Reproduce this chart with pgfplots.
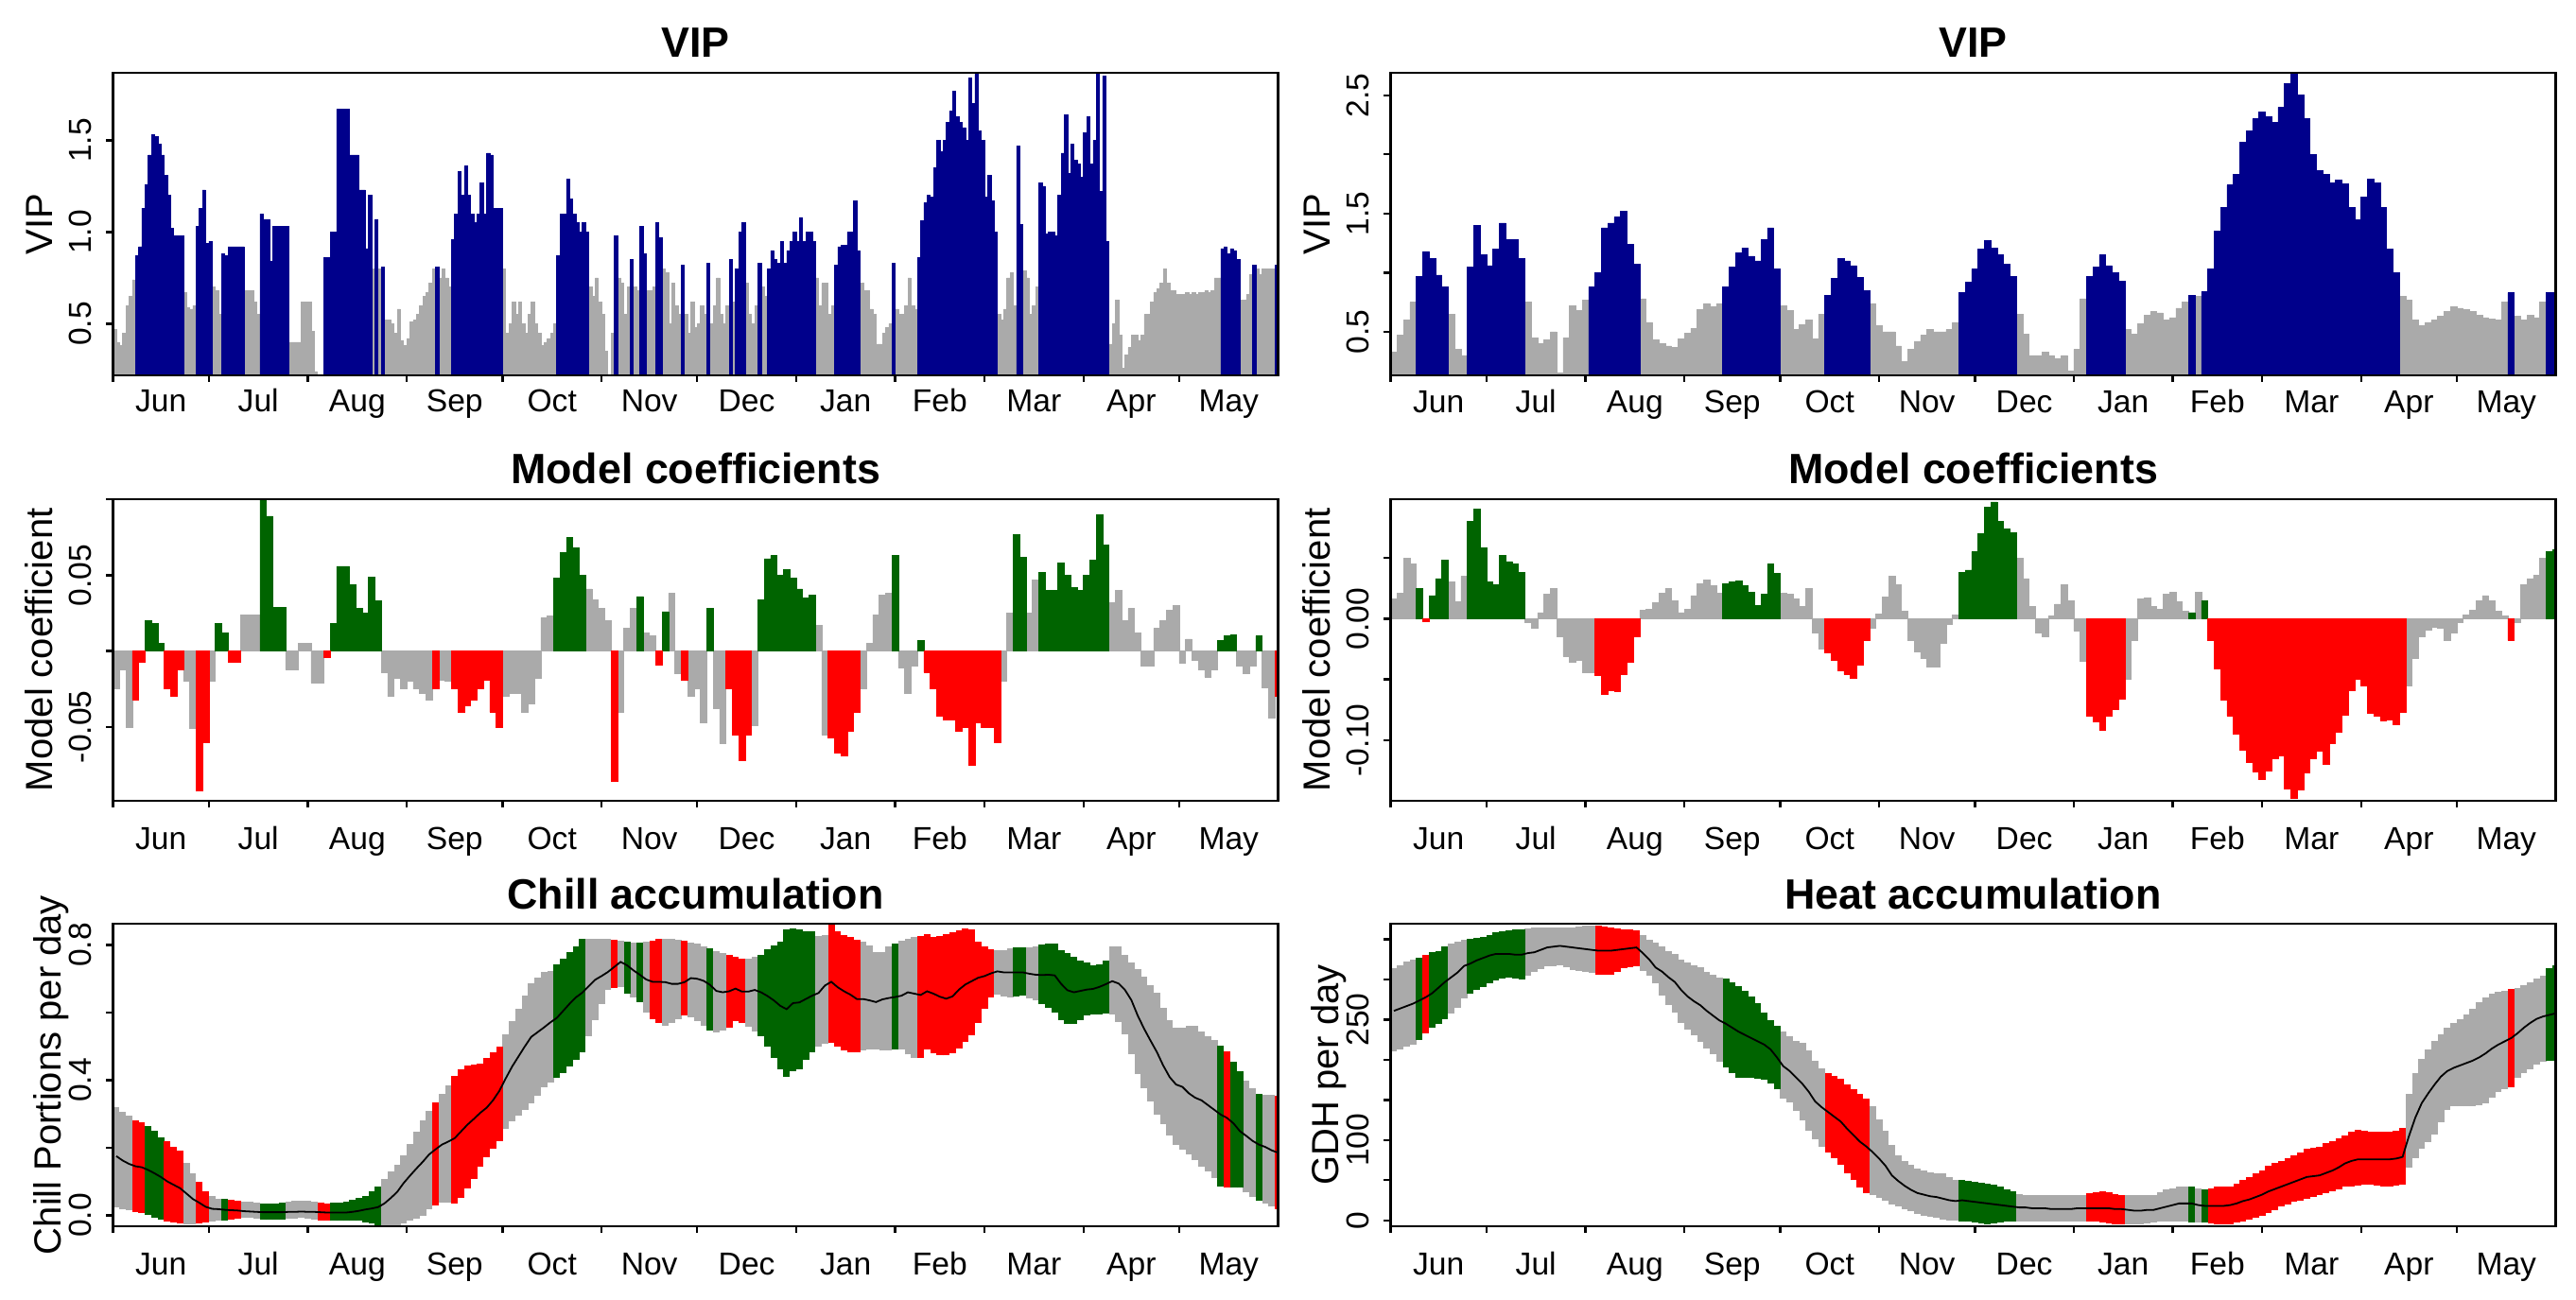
\documentclass[border=0pt]{standalone}
\usepackage{pgfplots}
\pgfplotsset{compat=1.18}
\usepackage{pgfplotstable}
\usepackage{fontspec}
\setmainfont{Liberation Sans}
\definecolor{cblue}{RGB}{0,0,139}
\definecolor{cgray}{RGB}{170,170,170}
\definecolor{cgreen}{RGB}{0,100,0}
\definecolor{cred}{RGB}{255,0,0}

% VIP left, daily, x100, c: 0 gray 1 blue
\pgfplotstableread[row sep=\\]{v c\\
47 0\\40 0\\38 0\\45 0\\60 0\\65 0\\74 0\\87 1\\92 1\\113 1\\
126 1\\142 1\\153 1\\152 1\\148 1\\142 1\\131 1\\120 1\\102 1\\98 1\\
98 1\\98 1\\67 0\\59 0\\58 0\\60 0\\103 1\\113 1\\123 1\\94 1\\
95 1\\70 0\\68 0\\55 0\\88 1\\87 1\\92 1\\92 1\\92 1\\92 1\\
92 1\\68 0\\68 0\\68 0\\62 0\\55 0\\110 1\\107 1\\107 1\\84 1\\
103 1\\103 1\\103 1\\103 1\\103 1\\40 0\\40 0\\40 0\\40 0\\62 0\\
62 0\\62 0\\46 0\\24 0\\22 0\\22 0\\86 1\\86 1\\100 1\\100 1\\
167 1\\167 1\\167 1\\167 1\\142 1\\142 1\\142 1\\123 1\\123 1\\91 1\\
120 1\\80 0\\107 1\\80 0\\81 1\\52 0\\52 0\\50 0\\45 0\\58 0\\
41 0\\38 0\\42 0\\51 0\\52 0\\55 0\\60 0\\65 0\\67 0\\72 0\\
80 0\\81 1\\75 0\\80 0\\75 0\\70 0\\96 1\\110 1\\133 1\\120 1\\
136 1\\120 1\\110 1\\105 1\\110 1\\127 1\\110 1\\143 1\\142 1\\113 1\\
113 1\\113 1\\80 0\\45 0\\50 0\\62 0\\55 0\\62 0\\50 0\\45 0\\
55 0\\62 0\\50 0\\45 0\\38 0\\40 0\\42 0\\45 0\\50 0\\87 1\\
110 1\\110 1\\129 1\\118 1\\110 1\\105 1\\100 1\\105 1\\100 1\\70 0\\
65 0\\75 0\\62 0\\55 0\\35 0\\22 0\\45 0\\98 1\\75 0\\72 0\\
55 0\\70 0\\85 1\\70 0\\68 0\\103 1\\88 1\\68 0\\68 0\\70 0\\
105 1\\97 1\\80 0\\78 0\\50 0\\72 0\\60 0\\55 0\\82 1\\55 0\\
45 0\\62 0\\48 0\\50 0\\60 0\\55 0\\83 1\\50 0\\60 0\\75 0\\
55 0\\50 0\\60 0\\85 1\\62 0\\80 1\\100 1\\105 1\\72 0\\55 0\\
50 0\\60 0\\83 1\\70 0\\65 0\\80 1\\90 1\\85 1\\83 1\\95 1\\
83 1\\90 1\\95 1\\100 1\\95 1\\108 1\\95 1\\100 1\\100 1\\95 1\\
75 0\\60 0\\72 0\\72 0\\55 0\\60 0\\82 1\\92 1\\93 1\\93 1\\
100 1\\100 1\\117 1\\90 1\\72 0\\68 0\\68 0\\58 0\\55 0\\39 0\\
39 0\\45 0\\48 0\\50 0\\83 1\\58 0\\55 0\\55 0\\60 0\\75 0\\
60 0\\58 0\\86 1\\106 1\\116 1\\120 1\\119 1\\135 1\\150 1\\144 1\\
150 1\\160 1\\166 1\\177 1\\163 1\\160 1\\157 1\\150 1\\184 1\\170 1\\
187 1\\155 1\\150 1\\119 1\\131 1\\117 1\\100 1\\55 0\\52 0\\58 0\\
75 0\\78 0\\60 0\\147 1\\104 1\\79 0\\75 0\\55 0\\60 0\\70 0\\
127 1\\125 1\\99 1\\100 1\\100 1\\98 1\\120 1\\143 1\\164 1\\132 1\\
148 1\\139 1\\137 1\\130 1\\154 1\\163 1\\137 1\\150 1\\186 1\\122 1\\
185 1\\95 1\\39 0\\50 0\\63 0\\44 0\\26 0\\33 0\\37 0\\44 0\\
44 0\\41 0\\44 0\\55 0\\55 0\\62 0\\67 0\\69 0\\72 0\\80 0\\
72 0\\68 0\\68 0\\66 0\\66 0\\66 0\\67 0\\66 0\\67 0\\66 0\\
67 0\\67 0\\68 0\\67 0\\68 0\\75 0\\75 0\\91 1\\92 1\\88 1\\
91 1\\90 1\\85 1\\63 0\\63 0\\66 0\\77 0\\82 1\\80 0\\77 0\\
80 0\\80 0\\80 0\\80 0\\82 1\\
}\tl

% VIP right, 2-day bins, x100
\pgfplotstableread[row sep=\\]{v c\\
33 0\\47 0\\60 0\\75 0\\97 1\\118 1\\112 1\\98 1\\88 1\\65 0\\
35 0\\30 0\\105 1\\140 1\\115 1\\106 1\\120 1\\142 1\\128 1\\128 1\\
112 1\\75 0\\45 0\\40 0\\43 0\\50 0\\15 0\\45 0\\72 0\\68 0\\
77 0\\88 1\\100 1\\138 1\\142 1\\147 1\\152 1\\124 1\\107 1\\78 0\\
58 0\\43 0\\40 0\\38 0\\37 0\\44 0\\49 0\\53 0\\69 0\\74 0\\
71 0\\74 0\\88 1\\105 1\\117 1\\121 1\\114 1\\110 1\\128 1\\138 1\\
103 1\\72 0\\68 0\\52 0\\56 0\\60 0\\44 0\\65 0\\81 1\\95 1\\
112 1\\110 1\\106 1\\96 1\\85 1\\74 0\\55 0\\50 0\\50 0\\38 0\\
25 0\\35 0\\42 0\\47 0\\52 0\\50 0\\50 0\\52 0\\58 0\\83 1\\
92 1\\103 1\\120 1\\127 1\\121 1\\115 1\\107 1\\97 1\\65 0\\48 0\\
30 0\\30 0\\33 0\\30 0\\27 0\\30 0\\17 0\\35 0\\78 0\\97 1\\
105 1\\115 1\\106 1\\100 1\\93 1\\52 0\\48 0\\57 0\\64 0\\67 0\\
66 0\\60 0\\62 0\\70 0\\75 0\\81 1\\80 0\\84 1\\103 1\\135 1\\
155 1\\174 1\\183 1\\210 1\\220 1\\230 1\\236 1\\232 1\\227 1\\240 1\\
260 1\\268 1\\250 1\\230 1\\200 1\\186 1\\183 1\\176 1\\178 1\\175 1\\
155 1\\145 1\\164 1\\179 1\\176 1\\155 1\\120 1\\100 1\\80 0\\77 0\\
60 0\\55 0\\58 0\\60 0\\63 0\\67 0\\71 0\\70 0\\69 0\\67 0\\
64 0\\62 0\\61 0\\60 0\\75 0\\83 1\\63 0\\60 0\\64 0\\62 0\\
75 0\\83 1\\83 1\\
}\tr

% coefficients left, x1000, c: 0 gray 1 green 2 red
\pgfplotstableread[row sep=\\]{v c\\
-25 0\\-12 0\\-50 0\\-32 2\\-7 2\\20 1\\18 1\\5 1\\-25 2\\-30 2\\
-12 2\\-20 0\\-51 0\\-92 2\\-60 2\\-20 0\\18 1\\12 1\\-7 2\\-7 2\\
24 0\\24 0\\24 0\\100 1\\89 1\\29 1\\29 1\\-12 0\\-12 0\\5 0\\
5 0\\-21 0\\-21 0\\-4 2\\18 1\\56 1\\56 1\\44 1\\28 1\\25 1\\
49 1\\33 1\\-14 0\\-30 0\\-18 0\\-25 0\\-20 0\\-25 0\\-28 0\\-32 0\\
-25 2\\-19 0\\-20 0\\-25 2\\-40 2\\-36 2\\-32 2\\-25 2\\-19 2\\-40 2\\
-50 2\\-30 0\\-28 0\\-28 0\\-40 0\\-35 0\\-18 0\\22 0\\23 0\\48 1\\
65 1\\75 1\\68 1\\50 1\\41 0\\34 0\\28 0\\20 0\\-86 2\\-40 0\\
15 0\\28 0\\36 1\\12 0\\10 0\\-9 2\\26 1\\38 0\\-15 0\\-19 2\\
-30 0\\-25 0\\-47 0\\28 1\\-38 0\\-61 0\\-25 2\\-55 2\\-72 2\\-55 2\\
-49 0\\34 1\\61 1\\63 1\\50 1\\54 1\\48 1\\41 1\\35 1\\37 1\\
17 0\\-55 0\\-57 2\\-67 2\\-69 2\\-53 2\\-40 2\\-25 0\\5 0\\24 0\\
37 0\\38 0\\63 1\\-11 0\\-28 0\\-10 0\\7 1\\-14 2\\-25 2\\-43 2\\
-45 2\\-45 2\\-53 2\\-50 2\\-75 2\\-47 2\\-50 2\\-50 2\\-60 2\\-20 0\\
25 0\\77 1\\62 1\\25 0\\47 0\\52 1\\40 1\\40 1\\58 1\\50 1\\
42 1\\40 1\\50 1\\60 1\\90 1\\70 1\\32 0\\40 0\\20 0\\28 0\\
12 0\\-10 0\\-10 0\\15 0\\20 0\\27 0\\30 0\\-8 0\\8 0\\-6 0\\
-12 0\\-17 0\\-12 0\\7 1\\10 1\\11 1\\-10 0\\-15 0\\-10 0\\10 1\\
-24 0\\-44 0\\-30 2\\
}\ml

% coefficients right
\pgfplotstableread[row sep=\\]{v c\\
16 0\\21 0\\50 0\\45 0\\25 1\\-2 2\\19 1\\33 1\\48 1\\30 0\\
14 0\\35 0\\80 1\\90 1\\58 1\\30 1\\28 1\\52 1\\47 1\\45 1\\
38 1\\-3 0\\-8 0\\5 0\\20 0\\25 0\\-15 0\\-31 0\\-36 0\\-34 0\\
-44 0\\-44 0\\-47 2\\-62 2\\-59 2\\-60 2\\-46 2\\-36 2\\-15 2\\7 0\\
8 0\\13 0\\21 0\\25 0\\15 0\\5 0\\8 0\\19 0\\29 0\\32 0\\
27 0\\21 0\\29 1\\30 1\\31 1\\27 1\\22 1\\11 1\\20 1\\45 1\\
37 1\\21 0\\20 0\\16 0\\10 0\\25 0\\-12 0\\-25 0\\-28 2\\-34 2\\
-43 2\\-46 2\\-49 2\\-38 2\\-18 2\\-8 0\\4 0\\18 0\\35 0\\28 0\\
6 0\\-18 0\\-27 0\\-33 0\\-40 0\\-40 0\\-20 0\\-5 0\\3 0\\38 1\\
40 1\\55 1\\70 1\\92 1\\96 1\\80 1\\74 1\\71 1\\50 0\\33 0\\
10 0\\-12 0\\-15 0\\2 0\\12 0\\28 0\\15 0\\-10 0\\-35 0\\-80 2\\
-85 2\\-92 2\\-80 2\\-75 2\\-66 2\\-50 0\\-18 0\\16 0\\17 0\\10 0\\
8 0\\20 0\\22 0\\14 0\\6 0\\5 1\\22 0\\15 1\\-18 2\\-41 2\\
-67 2\\-80 2\\-95 2\\-108 2\\-118 2\\-126 2\\-132 2\\-125 2\\-115 2\\-113 2\\
-140 2\\-148 2\\-141 2\\-127 2\\-115 2\\-109 2\\-120 2\\-103 2\\-93 2\\-79 2\\
-59 2\\-50 2\\-55 2\\-78 2\\-80 2\\-84 2\\-83 2\\-87 2\\-77 2\\-55 0\\
-33 0\\-15 0\\-9 0\\-7 0\\-8 0\\-18 0\\-12 0\\-3 0\\3 0\\7 0\\
15 0\\19 0\\15 0\\6 0\\2 0\\-18 2\\-3 0\\28 0\\33 0\\36 0\\
50 0\\55 1\\57 1\\
}\mr

% chill: low mean high (x1000), c
\pgfplotstableread[row sep=\\]{l m h c\\
23 175 320 0\\19 162 306 0\\15 152 295 0\\10 145 280 2\\7 142 274 2\\2 134 265 1\\-6 124 250 1\\-12 113 230 1\\-18 100 218 2\\-21 90 202 2\\
-24 80 190 2\\-26 64 155 0\\-26 48 125 0\\-25 37 98 2\\-22 25 72 2\\-19 19 56 0\\-17 18 48 0\\-17 16 48 1\\-14 15 45 2\\-11 14 43 2\\
-8 12 40 0\\-7 11 39 0\\-9 10 37 0\\-12 9 35 1\\-14 9 34 1\\-14 9 35 1\\-13 9 37 1\\-11 10 40 0\\-9 10 42 0\\-7 11 44 0\\
-9 10 42 0\\-12 10 40 0\\-15 9 36 2\\-17 8 34 2\\-17 8 36 1\\-17 8 38 1\\-17 8 40 1\\-17 10 45 1\\-17 13 50 1\\-20 17 58 1\\
-25 20 70 1\\-29 24 84 1\\-29 35 108 0\\-30 51 131 0\\-31 69 150 0\\-23 95 177 0\\-15 117 212 0\\-10 138 248 0\\-1 158 281 0\\17 180 310 0\\
28 195 335 2\\38 209 358 0\\37 218 385 0\\34 228 412 2\\52 248 432 2\\78 268 442 2\\108 285 445 2\\143 303 449 2\\172 318 465 2\\197 340 482 2\\
220 368 500 2\\256 405 535 0\\277 440 575 0\\294 470 610 0\\313 500 650 0\\332 528 686 0\\355 542 703 0\\379 556 719 0\\394 571 723 0\\407 584 742 1\\
422 605 760 1\\440 626 778 1\\461 645 796 1\\482 659 817 1\\530 678 817 0\\577 697 817 0\\625 708 817 0\\668 720 817 0\\672 735 815 2\\676 750 812 0\\
655 740 810 1\\646 725 807 0\\632 712 807 1\\600 698 810 0\\580 691 813 2\\569 691 817 2\\561 690 817 0\\570 685 817 0\\580 685 815 0\\592 690 812 2\\
586 702 808 0\\576 700 803 0\\562 694 797 0\\547 682 789 1\\540 664 782 0\\546 660 775 0\\555 663 770 2\\574 671 766 2\\568 662 759 2\\559 662 760 0\\
545 667 766 0\\530 660 770 1\\498 649 788 1\\465 636 800 1\\432 620 810 1\\410 610 846 1\\426 628 849 1\\433 630 846 1\\460 640 842 1\\482 650 840 1\\
500 658 826 0\\507 680 830 0\\509 691 859 2\\500 675 840 2\\489 663 830 2\\481 653 824 2\\482 640 816 2\\488 640 810 0\\491 636 798 0\\491 631 780 0\\
487 639 780 0\\489 643 795 0\\490 646 805 1\\490 650 812 0\\476 660 819 0\\465 656 823 0\\465 652 827 2\\490 663 831 2\\480 656 824 2\\474 647 826 2\\
473 641 832 2\\480 648 839 2\\494 668 843 2\\512 683 850 2\\534 693 846 2\\570 703 810 2\\610 708 797 2\\645 716 788 2\\654 722 784 0\\648 719 785 0\\
644 719 789 0\\647 719 792 1\\649 719 793 1\\642 715 793 0\\636 712 795 0\\625 711 801 1\\613 712 805 1\\600 710 805 1\\577 685 786 1\\565 666 775 1\\
565 660 765 1\\578 664 755 1\\591 668 748 1\\593 670 741 1\\594 676 742 1\\597 684 753 1\\594 693 795 0\\572 686 795 0\\535 667 772 0\\478 637 749 0\\
418 591 730 0\\375 552 705 0\\338 517 680 0\\297 483 660 0\\270 443 613 0\\237 409 577 0\\208 387 556 0\\195 380 556 0\\181 361 562 0\\163 348 560 0\\
144 340 545 0\\131 326 531 0\\110 312 518 0\\85 298 503 1\\81 288 485 2\\81 272 455 1\\81 249 426 1\\67 235 398 0\\53 220 375 0\\42 209 360 1\\
35 202 356 0\\25 192 356 0\\18 185 355 2\\
}\bl

% heat: low mean high (GDH), c
\pgfplotstableread[row sep=\\]{l m h c\\
211 261 314 0\\213 264 318 0\\216 267 322 0\\219 270 325 0\\225 274 327 1\\233 278 331 2\\240 283 334 1\\245 290 336 1\\251 297 341 1\\258 303 345 0\\
265 309 347 0\\277 317 350 0\\282 320 351 1\\287 324 352 1\\291 327 353 1\\295 330 356 1\\299 332 359 1\\301 332 360 1\\302 332 361 1\\301 331 362 1\\
300 331 363 1\\305 333 364 0\\310 334 365 0\\313 337 365 0\\316 340 365 0\\317 341 365 0\\318 342 365 0\\315 341 365 0\\312 340 365 0\\311 339 366 0\\
310 338 367 0\\308 337 367 0\\306 336 367 2\\306 336 366 2\\306 336 365 2\\310 337 364 2\\314 338 363 2\\315 339 362 2\\316 340 361 2\\311 333 355 0\\
305 325 350 0\\295 315 346 0\\280 310 341 0\\268 303 336 0\\259 297 332 0\\246 287 325 0\\238 279 321 0\\230 273 318 0\\222 268 315 0\\214 261 309 0\\
207 255 306 0\\198 249 303 0\\190 245 301 1\\184 240 297 1\\178 235 292 1\\177 231 286 1\\177 227 279 1\\176 223 271 1\\175 219 259 1\\170 213 250 1\\
163 203 242 1\\152 192 235 0\\147 186 229 0\\136 178 224 0\\124 170 221 0\\112 160 212 0\\101 148 199 0\\91 141 189 0\\85 135 184 2\\78 129 180 2\\
69 123 176 2\\59 114 169 2\\50 106 163 2\\41 98 157 2\\34 92 152 2\\32 85 142 0\\28 77 126 0\\24 68 112 0\\20 56 94 0\\17 49 81 0\\
14 43 74 0\\12 38 69 0\\8 34 65 0\\6 32 62 0\\4 30 60 0\\3 29 59 0\\1 27 58 0\\0 25 54 0\\0 24 50 0\\-1 25 50 1\\
-2 24 49 1\\-3 23 48 1\\-4 22 47 1\\-5 21 46 1\\-4 20 44 1\\-3 19 42 1\\-2 18 39 1\\-1 17 36 1\\-1 16 33 0\\-1 16 32 0\\
-1 15 31 0\\-1 15 31 0\\-1 15 31 0\\-1 14 31 0\\-1 14 31 0\\-1 14 31 0\\-1 14 31 0\\-1 15 32 0\\-1 15 32 0\\-1 15 34 2\\
-2 15 35 2\\-3 15 36 2\\-4 15 35 2\\-5 14 33 2\\-5 14 32 2\\-5 13 31 0\\-5 12 31 0\\-5 12 31 0\\-4 13 31 0\\-3 13 31 0\\
-2 15 35 0\\-1 17 38 0\\-1 19 40 0\\-1 21 42 0\\-2 21 42 0\\-3 21 42 1\\-3 19 40 0\\-3 18 38 1\\-4 18 40 2\\-5 18 42 2\\
-5 18 42 2\\-5 19 42 2\\-3 21 46 2\\-1 24 50 2\\1 26 54 2\\3 29 58 2\\6 32 62 2\\9 36 68 2\\13 39 71 2\\17 42 74 2\\
20 45 77 2\\23 48 81 2\\25 51 85 2\\27 54 89 2\\29 55 90 2\\31 56 92 2\\34 59 96 2\\36 62 99 2\\39 66 102 2\\42 71 106 2\\
42 74 110 2\\43 76 113 2\\44 76 112 2\\44 76 111 2\\43 76 111 2\\42 76 111 2\\42 76 111 2\\43 77 112 2\\44 79 115 2\\66 105 158 0\\
78 128 183 0\\89 146 201 0\\98 158 213 0\\107 169 224 0\\122 179 232 0\\137 186 240 0\\142 190 246 0\\142 193 251 0\\142 196 256 0\\142 199 264 0\\
143 203 272 0\\146 208 278 0\\153 214 282 0\\160 219 285 0\\163 223 286 0\\166 227 288 2\\178 233 290 0\\183 240 293 0\\188 246 297 0\\194 251 301 0\\
198 254 305 0\\199 256 314 1\\199 258 318 1\\
}\br

\pgfplotsset{
 panel/.style={
  scale only axis, width=308pt, height=80pt, xmin=0, xmax=365, anchor=south west,
  axis on top, clip=true,
  axis line style={line width=0.6pt},
  every tick/.style={black, line width=0.6pt},
  major tick length=1.8pt,
  tick align=outside, tick pos=left,
  xtick={0,30,61,92,122,153,183,214,245,273,304,334},
  xticklabels={},
  extra x ticks={15,45.5,76.5,107,137.5,168,198.5,229.5,259,288.5,319,349.5},
  extra x tick labels={Jun,Jul,Aug,Sep,Oct,Nov,Dec,Jan,Feb,Mar,Apr,May},
  extra x tick style={major tick length=0pt},
  tick label style={font=\fontsize{8.4}{10}\selectfont, inner sep=0pt},
  xticklabel style={anchor=base},
  yticklabel style={xshift=-4pt, rotate=90, anchor=base},
  every axis title/.style={at={(0.5,1)}, anchor=base, yshift=4pt, inner sep=0pt, font=\bfseries\fontsize{11.2}{13}\selectfont},
 },
 ylab/.style={every axis y label/.style={at={(axis description cs:0,0.5)}, xshift=-#1, rotate=90, anchor=base, inner sep=0pt, font=\fontsize{10}{12}\selectfont}},
 xlab/.style={xticklabel style={yshift=-#1}},
 bars/.style={ybar, bar shift=0pt, line width=0.15pt},
 band/.style={draw=none, mark=none, error bars/.cd, y dir=plus, y explicit, error mark=none, error bar style={draw=#1, line width=1.75pt}},
}

\begin{document}
\begin{tikzpicture}
\path[use as bounding box] (0,0) rectangle (681pt,343.5pt);

% ---- top left
\begin{axis}[panel, at={(29.9pt,244.25pt)}, ymin=0.219, ymax=1.868,
  ytick={0.5,1,1.5}, yticklabels={0.5,1.0,1.5},
  title={VIP}, ylabel={VIP}, ylab=16pt, xlab=9.75pt]
\addplot[bars, bar width=1, fill=cgray, draw=cgray] table[x expr=\coordindex+0.5, y expr=\thisrow{v}/100, restrict expr to domain={\thisrow{c}}{0:0}] {\tl};
\addplot[bars, bar width=1, fill=cblue, draw=cblue] table[x expr=\coordindex+0.5, y expr=\thisrow{v}/100, restrict expr to domain={\thisrow{c}}{1:1}] {\tl};
\end{axis}

% ---- top right
\begin{axis}[panel, at={(367.65pt,244.25pt)}, ymin=0.131, ymax=2.69,
  ytick={0.5,1,1.5,2,2.5}, yticklabels={0.5,,1.5,,2.5},
  title={VIP}, ylabel={VIP}, ylab=16pt, xlab=9.75pt]
\addplot[bars, bar width=2, fill=cgray, draw=cgray] table[x expr=2*\coordindex+1, y expr=\thisrow{v}/100, restrict expr to domain={\thisrow{c}}{0:0}] {\tr};
\addplot[bars, bar width=2, fill=cblue, draw=cblue] table[x expr=2*\coordindex+1, y expr=\thisrow{v}/100, restrict expr to domain={\thisrow{c}}{1:1}] {\tr};
\end{axis}

% ---- middle left
\begin{axis}[panel, at={(29.9pt,131.8pt)}, height=79.75pt, ymin=-0.0986, ymax=0.1003,
  ytick={-0.05,0,0.05,0.1}, yticklabels={-0.05,,0.05,},
  title={Model coefficients}, ylabel={Model coefficient}, ylab=16pt, xlab=12.8pt]
\addplot[bars, bar width=2, fill=cgray, draw=cgray] table[x expr=2*\coordindex+1, y expr=\thisrow{v}/1000, restrict expr to domain={\thisrow{c}}{0:0}] {\ml};
\addplot[bars, bar width=2, fill=cgreen, draw=cgreen] table[x expr=2*\coordindex+1, y expr=\thisrow{v}/1000, restrict expr to domain={\thisrow{c}}{1:1}] {\ml};
\addplot[bars, bar width=2, fill=cred, draw=cred] table[x expr=2*\coordindex+1, y expr=\thisrow{v}/1000, restrict expr to domain={\thisrow{c}}{2:2}] {\ml};
\end{axis}

% ---- middle right
\begin{axis}[panel, at={(367.65pt,131.8pt)}, height=79.75pt, ymin=-0.1497, ymax=0.0984,
  ytick={-0.1,-0.05,0,0.05}, yticklabels={-0.10,,0.00,},
  title={Model coefficients}, ylabel={Model coefficient}, ylab=16pt, xlab=12.8pt]
\addplot[bars, bar width=2, fill=cgray, draw=cgray] table[x expr=2*\coordindex+1, y expr=\thisrow{v}/1000, restrict expr to domain={\thisrow{c}}{0:0}] {\mr};
\addplot[bars, bar width=2, fill=cgreen, draw=cgreen] table[x expr=2*\coordindex+1, y expr=\thisrow{v}/1000, restrict expr to domain={\thisrow{c}}{1:1}] {\mr};
\addplot[bars, bar width=2, fill=cred, draw=cred] table[x expr=2*\coordindex+1, y expr=\thisrow{v}/1000, restrict expr to domain={\thisrow{c}}{2:2}] {\mr};
\end{axis}

% ---- bottom left
\begin{axis}[panel, at={(29.9pt,19.25pt)}, ymin=-0.0326, ymax=0.863,
  ytick={0,0.2,0.4,0.6,0.8}, yticklabels={0.0,,0.4,,0.8},
  title={Chill accumulation}, ylabel={Chill Portions per day}, ylab=13.7pt, xlab=12.8pt]
\addplot[band=cgray] table[x expr=2*\coordindex+1, y expr=\thisrow{l}/1000, y error plus expr=(\thisrow{h}-\thisrow{l})/1000, restrict expr to domain={\thisrow{c}}{0:0}] {\bl};
\addplot[band=cgreen] table[x expr=2*\coordindex+1, y expr=\thisrow{l}/1000, y error plus expr=(\thisrow{h}-\thisrow{l})/1000, restrict expr to domain={\thisrow{c}}{1:1}] {\bl};
\addplot[band=cred] table[x expr=2*\coordindex+1, y expr=\thisrow{l}/1000, y error plus expr=(\thisrow{h}-\thisrow{l})/1000, restrict expr to domain={\thisrow{c}}{2:2}] {\bl};
\addplot[black, line width=0.45pt, mark=none] table[x expr=2*\coordindex+1, y expr=\thisrow{m}/1000] {\bl};
\end{axis}

% ---- bottom right
\begin{axis}[panel, at={(367.65pt,19.25pt)}, ymin=-7.4, ymax=369.6,
  ytick={0,50,100,150,200,250,300,350}, yticklabels={0,,100,,,250,,},
  title={Heat accumulation}, ylabel={GDH per day}, ylab=13.7pt, xlab=12.8pt]
\addplot[band=cgray] table[x expr=2*\coordindex+1, y=l, y error plus expr=\thisrow{h}-\thisrow{l}, restrict expr to domain={\thisrow{c}}{0:0}] {\br};
\addplot[band=cgreen] table[x expr=2*\coordindex+1, y=l, y error plus expr=\thisrow{h}-\thisrow{l}, restrict expr to domain={\thisrow{c}}{1:1}] {\br};
\addplot[band=cred] table[x expr=2*\coordindex+1, y=l, y error plus expr=\thisrow{h}-\thisrow{l}, restrict expr to domain={\thisrow{c}}{2:2}] {\br};
\addplot[black, line width=0.45pt, mark=none] table[x expr=2*\coordindex+1, y=m] {\br};
\end{axis}

\end{tikzpicture}
\end{document}
